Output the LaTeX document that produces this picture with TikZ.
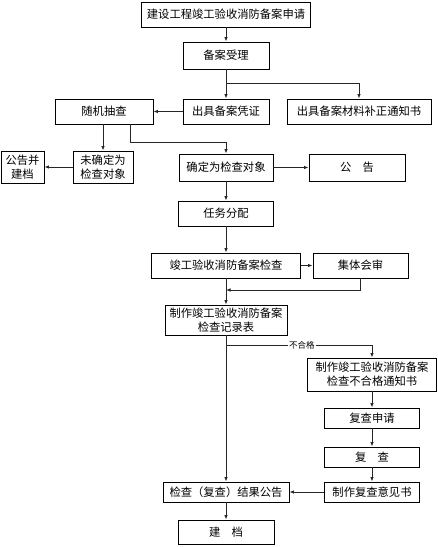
\documentclass[tikz,border=0pt]{standalone}
\usepackage{fontspec}
\setmainfont{Noto Sans CJK SC}
\usepackage{tikz}
\usetikzlibrary{arrows.meta,calc,positioning}

\begin{document}
\begin{tikzpicture}[x=1pt,y=-1pt,
  >={Latex[length=4.5pt,width=3.5pt]},
  box/.style={draw,line width=0.9pt,inner sep=1pt,align=center,
              font=\fontsize{11.3}{14}\selectfont},
  flow/.style={->,line width=0.9pt,draw=black!85},
  tag/.style={font=\fontsize{8.5}{10}\selectfont,fill=white,inner sep=1pt}]
  \useasboundingbox (0,0) rectangle (438,547);
  % 受理
  \node[box,minimum width=169,minimum height=25] (apply)   at (226,14.5) {建设工程竣工验收消防备案申请};
  \node[box,minimum width=86,minimum height=27]  (accept)  at (226,55.5) {备案受理};
  \node[box,minimum width=86,minimum height=25]  (cert)    at (226,111.5) {出具备案凭证};
  \node[box,minimum width=144,minimum height=25] (amend)   at (359,111.5) {出具备案材料补正通知书};
  % 抽查
  \node[box,minimum width=98,minimum height=25]  (random)  at (104,111.5) {随机抽查};
  \node[box,minimum width=60,minimum height=32]  (notobj)  at (103,167) {未确定为\\检查对象};
  \node[box,minimum width=43,minimum height=32]  (pubarch) at (22.5,167) {公告并\\建档};
  \node[box,minimum width=94,minimum height=27]  (isobj)   at (226,167.5) {确定为检查对象};
  \node[box,minimum width=96,minimum height=27]  (notice)  at (357,167.5) {公\quad 告};
  % 检查
  \node[box,minimum width=95,minimum height=25]  (assign)  at (226,213.5) {任务分配};
  \node[box,minimum width=149,minimum height=25] (inspect) at (226,265.5) {竣工验收消防备案检查};
  \node[box,minimum width=95,minimum height=25]  (review)  at (360.5,265.5) {集体会审};
  \node[box,minimum width=122,minimum height=30] (record)  at (226,320) {制作竣工验收消防备案\\检查记录表};
  % 复查
  \node[box,minimum width=129,minimum height=33] (fail)    at (372,374.5) {制作竣工验收消防备案\\检查不合格通知书};
  \node[box,minimum width=95,minimum height=20]  (reapply) at (372,418) {复查申请};
  \node[box,minimum width=95,minimum height=20]  (recheck) at (372,457) {复\quad 查};
  \node[box,minimum width=95,minimum height=20]  (opinion) at (372,492) {制作复查意见书};
  % 公告与建档
  \node[box,minimum width=126,minimum height=20] (result)  at (226,492) {检查（复查）结果公告};
  \node[box,minimum width=96,minimum height=24]  (archive) at (226,532) {建\quad 档};
  \coordinate (merge) at (226,290);
  \coordinate (split) at (226,345);
  % 连线
  \draw[flow] (apply) -- (accept);
  \draw[flow] (accept) -- (cert);
  \draw[flow] (accept.south) -- ++(0,14) -| (amend.north);
  \draw[flow] (cert) -- (random);
  \draw[flow] (notobj.north |- random.south) -- (notobj.north);
  \draw[flow] ([xshift=26pt]random.south) -- ++(0,18) -| (isobj.north);
  \draw[flow] (notobj) -- (pubarch);
  \draw[flow] (isobj) -- (notice);
  \draw[flow] (isobj) -- (assign);
  \draw[flow] (assign) -- (inspect);
  \draw[flow] (inspect) -- (review);
  \draw[flow] (inspect) -- (record);
  \draw[flow] (review.south) |- (merge);
  \draw[flow] (record) -- (result);
  \draw[flow] (split) -| node[tag,pos=0.26] {不合格} (fail.north);
  \draw[flow] (fail) -- (reapply);
  \draw[flow] (reapply) -- (recheck);
  \draw[flow] (recheck) -- (opinion);
  \draw[flow] (opinion) -- (result);
  \draw[flow] (result) -- (archive);
\end{tikzpicture}
\end{document}
